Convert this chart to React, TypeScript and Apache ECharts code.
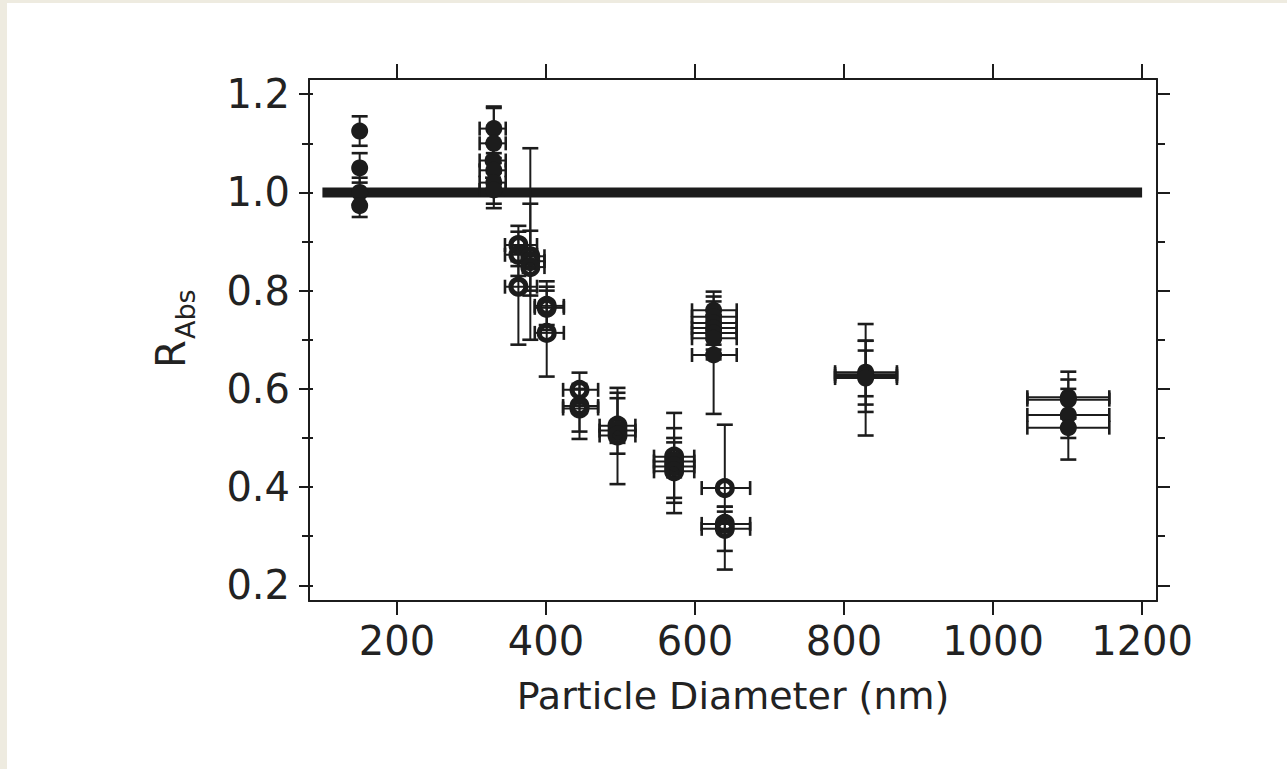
import React, { useEffect, useRef } from "react";
import * as echarts from "echarts";

// ---- axis ticks ----
const xTickValues = [200, 400, 600, 800, 1000, 1200];
const yMajorValues = [0.2, 0.4, 0.6, 0.8, 1.0, 1.2];
const yMinorValues = [0.3, 0.5, 0.7, 0.9, 1.1];
const yAllValues = [0.2, 0.3, 0.4, 0.5, 0.6, 0.7, 0.8, 0.9, 1.0, 1.1, 1.2];
const xRange = [82, 1220];
const yRange = [0.168, 1.231];

// ---- reference line R = 1 ----
const refLineX = [100, 1200];
const refLineY = 1.0;

// ---- measured points (diameter nm, R_Abs) with error bounds ----
// sample set: "S" = solid-marker set, "O" = ring-marker set
const sampleSet = [
  "S", "S", "S", "S",
  "S", "S", "S", "S", "S", "S",
  "O", "O", "O", "O", "O", "O",
  "O", "O", "O",
  "O", "O", "O",
  "O", "O", "O",
  "O", "O", "O", "O",
  "O", "O", "O",
  "S", "S", "S", "S", "S", "S", "S",
  "S", "S", "S", "S",
  "S", "S", "S", "S",
];
const pointX = [
  150, 150, 150, 150,
  330, 330, 329, 330, 330, 330,
  363, 363, 363, 379, 379, 379,
  401, 401, 401,
  445, 445, 445,
  496, 496, 496,
  572, 572, 572, 572,
  640, 640, 640,
  625, 625, 625, 625, 625, 625, 625,
  829, 829, 829, 829,
  1101, 1101, 1101, 1101,
];
const pointY = [
  1.125, 1.05, 1.0, 0.973,
  1.13, 1.1, 1.065, 1.045, 1.02, 1.005,
  0.893, 0.873, 0.808, 0.87, 0.86, 0.848,
  0.769, 0.765, 0.714,
  0.598, 0.565, 0.56,
  0.525, 0.515, 0.505,
  0.462, 0.452, 0.442, 0.432,
  0.398, 0.325, 0.315,
  0.76, 0.747, 0.734, 0.724, 0.714, 0.703, 0.669,
  0.634, 0.63, 0.626, 0.622,
  0.583, 0.578, 0.547, 0.521,
];
const xErrLow = [
  150, 150, 150, 150,
  311, 311, 311, 311, 311, 311,
  345, 345, 345, 369, 369, 369,
  385, 385, 385,
  423, 423, 423,
  472, 472, 472,
  545, 545, 545, 545,
  609, 609, 609,
  596, 596, 596, 596, 596, 596, 596,
  788, 788, 788, 788,
  1046, 1046, 1046, 1046,
];
const xErrHigh = [
  150, 150, 150, 150,
  346, 346, 346, 346, 346, 346,
  388, 388, 388, 398, 398, 398,
  424, 424, 424,
  470, 470, 470,
  520, 520, 520,
  599, 599, 599, 599,
  674, 674, 674,
  656, 656, 656, 656, 656, 656, 656,
  871, 871, 871, 871,
  1156, 1156, 1156, 1156,
];
const yErrLow = [
  1.095, 1.02, 0.975, 0.95,
  1.1, 1.07, 1.03, 1.01, 0.977, 0.968,
  0.85, 0.83, 0.69, 0.7, 0.8, 0.79,
  0.73, 0.72, 0.625,
  0.57, 0.513, 0.498,
  0.49, 0.468, 0.406,
  0.42, 0.378, 0.368, 0.347,
  0.36, 0.27, 0.232,
  0.72, 0.71, 0.7, 0.69, 0.68, 0.66, 0.549,
  0.585, 0.568, 0.553, 0.505,
  0.54, 0.54, 0.5, 0.456,
];
const yErrHigh = [
  1.155, 1.08, 1.03, 1.0,
  1.175, 1.172, 1.1, 1.08, 1.06, 1.04,
  0.932, 0.92, 0.86, 1.09, 0.977, 0.922,
  0.819, 0.808, 0.8,
  0.633, 0.61, 0.6,
  0.602, 0.592, 0.581,
  0.551, 0.491, 0.52, 0.5,
  0.527, 0.36, 0.35,
  0.798, 0.788, 0.778, 0.76, 0.75, 0.74, 0.72,
  0.678, 0.698, 0.698, 0.732,
  0.635, 0.619, 0.6, 0.58,
];

const INK = "#1c1c1c";
const FONT = "DejaVu Sans";

export default function App() {
  const ref = useRef<HTMLDivElement>(null);

  useEffect(() => {
    if (!ref.current) return;
    const chart = echarts.init(ref.current, null, { renderer: "svg" });

    const errorData = pointX.map((x, i) => [
      x,
      pointY[i],
      xErrLow[i],
      xErrHigh[i],
      yErrLow[i],
      yErrHigh[i],
    ]);
    const solidData = pointX
      .map((x, i) => (sampleSet[i] === "S" ? [x, pointY[i]] : null))
      .filter((d) => d !== null);
    const ringData = pointX
      .map((x, i) => (sampleSet[i] === "O" ? [x, pointY[i]] : null))
      .filter((d) => d !== null);

    const gridRect = { left: 309, top: 79, width: 848, height: 522 };
    const axisLineStyle = { color: INK, width: 2 };
    const hiddenX = (gridIndex: number) => ({
      type: "value",
      gridIndex,
      min: xRange[0],
      max: xRange[1],
      show: false,
    });
    const tickOnlyY = (
      gridIndex: number,
      position: string,
      values: number[],
      length: number,
      inside: boolean
    ) => ({
      type: "value",
      gridIndex,
      position,
      min: yRange[0],
      max: yRange[1],
      axisLine: { show: false, onZero: false },
      axisTick: {
        show: true,
        inside,
        length,
        customValues: values,
        lineStyle: { color: INK, width: 2 },
      },
      axisLabel: { show: false },
      splitLine: { show: false },
    });

    const option: any = {
      animation: false,
      backgroundColor: "#ffffff",
      grid: [{ ...gridRect }, { ...gridRect }, { ...gridRect }],
      xAxis: [
        {
          type: "value",
          gridIndex: 0,
          position: "bottom",
          min: xRange[0],
          max: xRange[1],
          axisLine: { show: true, onZero: false, lineStyle: axisLineStyle },
          axisTick: {
            show: true,
            length: 14,
            customValues: xTickValues,
            lineStyle: { color: INK, width: 2 },
          },
          axisLabel: {
            show: true,
            customValues: xTickValues,
            formatter: (v: number) => String(v),
            margin: 20,
            fontSize: 40,
            fontFamily: FONT,
            color: "#222",
          },
          splitLine: { show: false },
          name: "Particle Diameter (nm)",
          nameLocation: "middle",
          nameGap: 76,
          nameTextStyle: { fontSize: 38, fontFamily: FONT, color: "#222" },
        },
        {
          type: "value",
          gridIndex: 0,
          position: "top",
          min: xRange[0],
          max: xRange[1],
          axisLine: { show: true, onZero: false, lineStyle: axisLineStyle },
          axisTick: {
            show: true,
            length: 15,
            customValues: xTickValues,
            lineStyle: { color: INK, width: 2 },
          },
          axisLabel: { show: false },
          splitLine: { show: false },
        },
        hiddenX(1),
        hiddenX(2),
      ],
      yAxis: [
        {
          type: "value",
          gridIndex: 0,
          position: "left",
          min: yRange[0],
          max: yRange[1],
          axisLine: { show: true, onZero: false, lineStyle: axisLineStyle },
          axisTick: {
            show: true,
            length: 10,
            customValues: yMajorValues,
            lineStyle: { color: INK, width: 2 },
          },
          axisLabel: {
            show: true,
            customValues: yMajorValues,
            formatter: (v: number) => v.toFixed(1),
            margin: 19,
            fontSize: 40,
            fontFamily: FONT,
            color: "#222",
          },
          splitLine: { show: false },
        },
        {
          type: "value",
          gridIndex: 0,
          position: "right",
          min: yRange[0],
          max: yRange[1],
          axisLine: { show: true, onZero: false, lineStyle: axisLineStyle },
          axisTick: {
            show: true,
            length: 13,
            customValues: yMajorValues,
            lineStyle: { color: INK, width: 2 },
          },
          axisLabel: { show: false },
          splitLine: { show: false },
        },
        tickOnlyY(1, "left", yMinorValues, 7, false),
        tickOnlyY(1, "right", yMinorValues, 8, false),
        tickOnlyY(2, "left", yAllValues, 4, true),
      ],
      graphic: [
        {
          type: "rect",
          shape: { x: 0, y: 0, width: 1287, height: 3 },
          style: { fill: "#eeebe0" },
          silent: true,
        },
        {
          type: "rect",
          shape: { x: 0, y: 0, width: 7, height: 769 },
          style: { fill: "#eeebe0" },
          silent: true,
        },
        {
          type: "group",
          x: 171,
          y: 368,
          rotation: Math.PI / 2,
          children: [
            {
              type: "text",
              x: 0,
              y: 0,
              style: {
                text: "R",
                font: `40px "${FONT}"`,
                fill: "#222",
                align: "left",
                verticalAlign: "middle",
              },
            },
            {
              type: "text",
              x: 29,
              y: 14,
              style: {
                text: "Abs",
                font: `27px "${FONT}"`,
                fill: "#222",
                align: "left",
                verticalAlign: "middle",
              },
            },
          ],
        },
      ],
      series: [
        {
          type: "line",
          xAxisIndex: 0,
          yAxisIndex: 0,
          data: [
            [refLineX[0], refLineY],
            [refLineX[1], refLineY],
          ],
          symbol: "none",
          lineStyle: { color: INK, width: 10 },
          z: 2,
        },
        {
          type: "custom",
          xAxisIndex: 0,
          yAxisIndex: 0,
          encode: { x: 0, y: 1 },
          data: errorData,
          z: 3,
          renderItem: (params: any, api: any) => {
            const x = api.value(0);
            const y = api.value(1);
            const xl = api.value(2);
            const xh = api.value(3);
            const yl = api.value(4);
            const yh = api.value(5);
            const pyl = api.coord([x, yl]);
            const pyh = api.coord([x, yh]);
            const pxl = api.coord([xl, y]);
            const pxh = api.coord([xh, y]);
            const st = { stroke: INK, lineWidth: 2 };
            const cap = { stroke: INK, lineWidth: 2.6 };
            const cw = 8;
            const ch = 7;
            const children: any[] = [
              { type: "line", shape: { x1: pyl[0], y1: pyl[1], x2: pyh[0], y2: pyh[1] }, style: st },
              { type: "line", shape: { x1: pyl[0] - cw, y1: pyl[1], x2: pyl[0] + cw, y2: pyl[1] }, style: cap },
              { type: "line", shape: { x1: pyh[0] - cw, y1: pyh[1], x2: pyh[0] + cw, y2: pyh[1] }, style: cap },
            ];
            if (xh > xl) {
              children.push(
                { type: "line", shape: { x1: pxl[0], y1: pxl[1], x2: pxh[0], y2: pxh[1] }, style: st },
                { type: "line", shape: { x1: pxl[0], y1: pxl[1] - ch, x2: pxl[0], y2: pxl[1] + ch }, style: cap },
                { type: "line", shape: { x1: pxh[0], y1: pxh[1] - ch, x2: pxh[0], y2: pxh[1] + ch }, style: cap }
              );
            }
            return { type: "group", children };
          },
        },
        {
          type: "scatter",
          xAxisIndex: 0,
          yAxisIndex: 0,
          data: solidData,
          symbol: "circle",
          symbolSize: 17,
          itemStyle: { color: INK, opacity: 1 },
          z: 4,
        },
        {
          type: "scatter",
          xAxisIndex: 0,
          yAxisIndex: 0,
          data: ringData,
          symbol: "circle",
          symbolSize: 15,
          itemStyle: {
            color: "rgba(0,0,0,0)",
            borderColor: INK,
            borderWidth: 5,
            opacity: 1,
          },
          z: 4,
        },
      ],
    };

    chart.setOption(option);
    return () => chart.dispose();
  }, []);

  return (
    <div
      ref={ref}
      style={{ position: "absolute", left: 0, top: 0, width: 1287, height: 769 }}
    />
  );
}
